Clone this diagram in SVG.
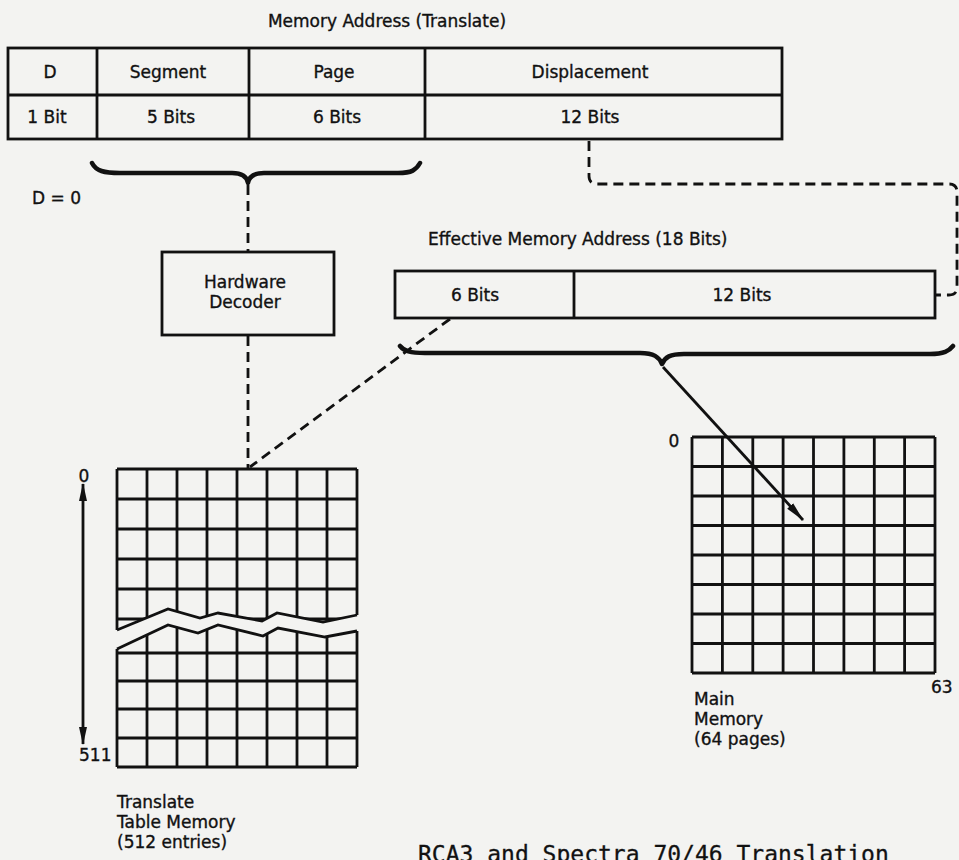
<svg xmlns="http://www.w3.org/2000/svg" width="959" height="860" viewBox="0 0 959 860">
<defs>
<style>
.t{font-family:"DejaVu Sans","Liberation Sans",sans-serif;font-size:17px;fill:#111;stroke:#111;stroke-width:0.35}
.m{text-anchor:middle}
.box{fill:none;stroke:#111;stroke-width:2.8}
.ln{stroke:#111;stroke-width:2.8;fill:none}
.dash{stroke:#111;stroke-width:2.8;fill:none;stroke-dasharray:10 6}
.brace{stroke:#111;stroke-width:4.5;fill:none;stroke-linecap:round;stroke-linejoin:round}
.cap{font-family:"DejaVu Sans Mono","Liberation Mono",monospace;font-size:23px;fill:#111;stroke:#111;stroke-width:0.3}
</style>
<marker id="ah" viewBox="0 0 20 10" refX="19" refY="5" markerWidth="20" markerHeight="10" markerUnits="userSpaceOnUse" orient="auto-start-reverse">
<path d="M0,1 L20,5 L0,9 Z" fill="#111"/>
</marker>
<marker id="ah2" viewBox="0 0 18 8" refX="17" refY="4" markerWidth="18" markerHeight="8" markerUnits="userSpaceOnUse" orient="auto-start-reverse">
<path d="M0,0 L18,4 L0,8 Z" fill="#111"/>
</marker>
</defs>
<rect width="959" height="860" fill="#f3f3f1"/>

<g id="memory-address">
<text class="t m" x="387" y="27">Memory Address (Translate)</text>
<rect class="box" x="8" y="48" width="774" height="91"/>
<line class="ln" x1="8" y1="95" x2="782" y2="95"/>
<line class="ln" x1="97" y1="48" x2="97" y2="139"/>
<line class="ln" x1="249" y1="48" x2="249" y2="139"/>
<line class="ln" x1="425" y1="48" x2="425" y2="139"/>
<text class="t m" x="50" y="78">D</text>
<text class="t m" x="168" y="78">Segment</text>
<text class="t m" x="334" y="78">Page</text>
<text class="t m" x="590" y="78">Displacement</text>
<text class="t m" x="47" y="123">1 Bit</text>
<text class="t m" x="171" y="123">5 Bits</text>
<text class="t m" x="337" y="123">6 Bits</text>
<text class="t m" x="590" y="123">12 Bits</text>
<path class="brace" d="M92,163 C96,171 104,173 120,173 L232,173 C243,173 247,177 248,183 C249,177 253,173 264,173 L398,173 C412,173 416,170 420,163"/>
<text class="t" x="32" y="204">D = 0</text>
</g>

<g id="hardware-decoder">
<rect class="box" x="162" y="252" width="172" height="83"/>
<text class="t m" x="245" y="288">Hardware</text>
<text class="t m" x="245" y="308">Decoder</text>
</g>

<g id="effective-address">
<text class="t" x="428" y="245">Effective Memory Address (18 Bits)</text>
<rect class="box" x="395" y="271" width="540" height="47"/>
<line class="ln" x1="574" y1="271" x2="574" y2="318"/>
<text class="t m" x="475" y="301">6 Bits</text>
<text class="t m" x="742" y="301">12 Bits</text>
<path class="brace" d="M400,346 C404,351 410,353 425,353 L640,353 C654,353 659,357 662,364 C665,357 670,354 684,354 L930,354 C944,354 949,351 953,346"/>
</g>

<g id="translate-table">
<g class="ln">
<line x1="117" y1="469" x2="357" y2="469"/>
<line x1="117" y1="499" x2="357" y2="499"/>
<line x1="117" y1="529" x2="357" y2="529"/>
<line x1="117" y1="559" x2="357" y2="559"/>
<line x1="117" y1="589" x2="357" y2="589"/>
<line x1="117" y1="619" x2="357" y2="619"/>
<line x1="117" y1="653" x2="357" y2="653"/>
<line x1="117" y1="681" x2="357" y2="681"/>
<line x1="117" y1="709" x2="357" y2="709"/>
<line x1="117" y1="738" x2="357" y2="738"/>
<line x1="117" y1="767" x2="357" y2="767"/>
<line x1="117" y1="469" x2="117" y2="767"/>
<line x1="147" y1="469" x2="147" y2="767"/>
<line x1="177" y1="469" x2="177" y2="767"/>
<line x1="207" y1="469" x2="207" y2="767"/>
<line x1="237" y1="469" x2="237" y2="767"/>
<line x1="267" y1="469" x2="267" y2="767"/>
<line x1="297" y1="469" x2="297" y2="767"/>
<line x1="327" y1="469" x2="327" y2="767"/>
<line x1="357" y1="469" x2="357" y2="767"/>
</g>
<polygon fill="#f3f3f1" points="114,630 117,630 168,609 200,618 218,613 262,621 277,613 323,622 357,615 360,615 360,631 357,631 325,637 278,628 263,636 218,625 198,633 168,625 117,649 114,649"/>
<polyline class="ln" points="117,630 168,609 200,618 218,613 262,621 277,613 323,622 357,615"/>
<polyline class="ln" points="117,649 168,625 198,633 218,625 263,636 278,628 325,637 357,631"/>
<line class="ln" x1="83" y1="484" x2="83" y2="744" marker-start="url(#ah2)" marker-end="url(#ah2)"/>
<text class="t m" x="84" y="482">0</text>
<text class="t" x="79" y="761">511</text>
<text class="t" x="117" y="808">Translate</text>
<text class="t" x="117" y="828">Table Memory</text>
<text class="t" x="117" y="848">(512 entries)</text>
</g>

<g id="main-memory">
<g class="ln">
<line x1="692" y1="437" x2="935" y2="437"/>
<line x1="692" y1="466.5" x2="935" y2="466.5"/>
<line x1="692" y1="496" x2="935" y2="496"/>
<line x1="692" y1="525.5" x2="935" y2="525.5"/>
<line x1="692" y1="555" x2="935" y2="555"/>
<line x1="692" y1="584.5" x2="935" y2="584.5"/>
<line x1="692" y1="614" x2="935" y2="614"/>
<line x1="692" y1="643.5" x2="935" y2="643.5"/>
<line x1="692" y1="673" x2="935" y2="673"/>
<line x1="692" y1="437" x2="692" y2="673"/>
<line x1="722.4" y1="437" x2="722.4" y2="673"/>
<line x1="752.8" y1="437" x2="752.8" y2="673"/>
<line x1="783.1" y1="437" x2="783.1" y2="673"/>
<line x1="813.5" y1="437" x2="813.5" y2="673"/>
<line x1="843.9" y1="437" x2="843.9" y2="673"/>
<line x1="874.3" y1="437" x2="874.3" y2="673"/>
<line x1="904.6" y1="437" x2="904.6" y2="673"/>
<line x1="935" y1="437" x2="935" y2="673"/>
</g>
<text class="t m" x="674" y="447">0</text>
<text class="t" x="931" y="693">63</text>
<text class="t" x="694" y="705">Main</text>
<text class="t" x="694" y="725">Memory</text>
<text class="t" x="694" y="745">(64 pages)</text>
</g>

<g id="connectors">
<path class="dash" d="M248,185 L248,252"/>
<path class="dash" d="M248,336 L248,468"/>
<path class="dash" d="M450,319 L250,467"/>
<path class="dash" d="M589,141 L589,176 Q589,184 597,184 L949,184 Q957,184 957,192 L957,287 Q957,295 949,295 L936,295"/>
<line class="ln" x1="663" y1="367" x2="803" y2="520" marker-end="url(#ah)"/>
</g>

<g id="caption">
<text class="cap" x="418" y="862">RCA3 and Spectra 70/46 Translation</text>
</g>
</svg>
